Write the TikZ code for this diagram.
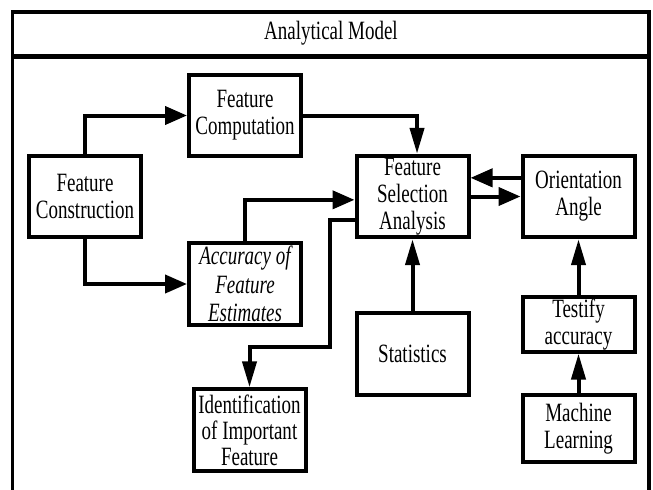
\documentclass[tikz,border=0pt]{standalone}
\usepackage{fontspec}
\setmainfont{Liberation Serif}[FakeStretch=0.72]
\usetikzlibrary{arrows.meta}

\tikzset{
  blk/.style={draw, line width=3pt, align=center, inner sep=1pt,
    minimum width=84pt, minimum height=61pt,
    font=\fontsize{19.8}{20.3}\selectfont},
  link/.style={line width=3pt},
  hto/.style={link, -{Triangle[length=16.5pt,width=13.5pt]}},
  vto/.style={link, -{Triangle[length=19.5pt,width=10.5pt]}},
}

\begin{document}
\begin{tikzpicture}[x=0.75pt, y=-0.75pt]
        \useasboundingbox (0,0) rectangle (653,489);
        \clip (0,0) rectangle (653,489);
        \draw[line width=2.6pt] (12.5,57) rectangle (649,530);
        \draw[line width=2.6pt] (12.5,12) rectangle (649,55.5);
        \node[font=\fontsize{19.8}{20.3}\selectfont] (title) at (331,33) {Analytical Model};

        \node[blk] (fcons) at (85,196.5) {Feature\\Construction};
        \node[blk] (fcomp) at (245,115.5) {Feature\\Computation};
        \node[blk, font=\fontsize{19.8}{21.4}\selectfont\itshape] (acc) at (245,284) {Accuracy of\\Feature\\Estimates};
        \node[blk] (fsa) at (412.5,196.5) {Feature\\Selection\\Analysis};
        \node[blk] (orient) at (578.5,196.5) {Orientation\\Angle};
        \node[blk] (stats) at (412.5,354) {Statistics};
        \node[blk, minimum height=40pt] (testify) at (578.5,324.5) {Testify\\accuracy};
        \node[blk, minimum height=50pt] (ml) at (578.5,428.5) {Machine\\Learning};
        \node[blk, font=\fontsize{19.8}{19.6}\selectfont] (ident) at (249.5,430) {Identification\\of Important\\Feature};
        \coordinate (split) at (330,347);

        \draw[hto] (fcons.north) |- (fcomp.west);
        \draw[hto] (fcons.south) |- (acc.west);
        \draw[vto] (fcomp.east) -| ([xshift=3.4pt]fsa.north);
        \draw[hto] (acc.north) |- ([yshift=-2.5pt]fsa.west);
        \draw[vto] ([yshift=-17.5pt]fsa.west) -| (split) -| (ident.north);
        \draw[vto] (stats.north) -- (fsa.south);
        \draw[hto] ([yshift=14pt]orient.west) -- ([yshift=14pt]fsa.east);
        \draw[hto] (fsa.east) -- (orient.west);
        \draw[vto] (testify.north) -- (orient.south);
        \draw[vto] (ml.north) -- (testify.south);
    \end{tikzpicture}
\end{document}
